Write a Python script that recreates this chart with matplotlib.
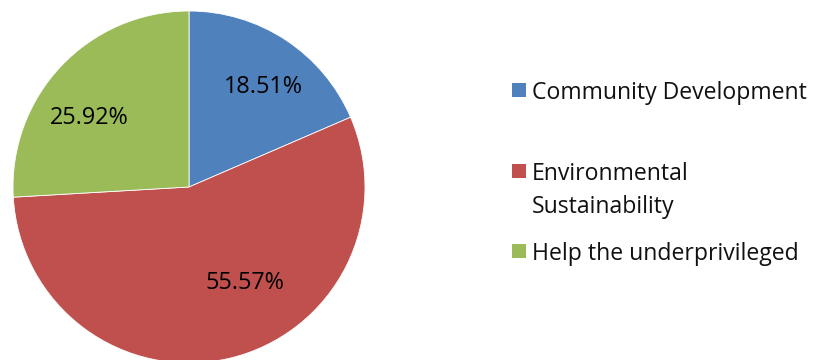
import matplotlib.pyplot as plt
from matplotlib.patches import Rectangle

categories = ["Community Development", "Environmental\nSustainability", "Help the underprivileged"]
shares = [18.51, 55.57, 25.92]
colors = ["#4F81BD", "#C0504D", "#9BBB59"]

# where each value label sits, in pie radius units
label_xy = [(0.42, 0.57), (0.32, -0.545), (-0.565, 0.39)]
# legend row centres, in figure pixels from the top
legend_rows = [90, 171, 251]

W, H = 815, 360
plt.rcParams["font.family"] = ["Open Sans", "DejaVu Sans"]

fig = plt.figure(figsize=(W / 100, H / 100), dpi=100)
cx, cy, r = 189, 187, 176
ax = fig.add_axes([(cx - r) / W, (H - cy - r) / H, 2 * r / W, 2 * r / H])
ax.pie(shares, colors=colors, startangle=90, counterclock=False, radius=1.0,
       wedgeprops=dict(edgecolor="white", linewidth=0.6))
ax.set_xlim(-1, 1)
ax.set_ylim(-1, 1)
ax.set_aspect("equal")
ax.axis("off")

for v, (x, y) in zip(shares, label_xy):
    ax.text(x, y, f"{v:.2f}%", ha="center", va="center", fontsize=16.8, color="black")

# hand-placed legend: square swatch aligned with the first text line
sq = 14
for name, col, row in zip(categories, colors, legend_rows):
    fig.patches.append(Rectangle((512 / W, (H - row - sq / 2) / H), sq / W, sq / H,
                                 transform=fig.transFigure, facecolor=col, edgecolor="none"))
    for k, part in enumerate(name.split("\n")):
        fig.text(532 / W, (H - row - 33 * k) / H, part, ha="left", va="center_baseline",
                 fontsize=16.6, color="#111111")

fig.savefig("out.png", dpi=100)
